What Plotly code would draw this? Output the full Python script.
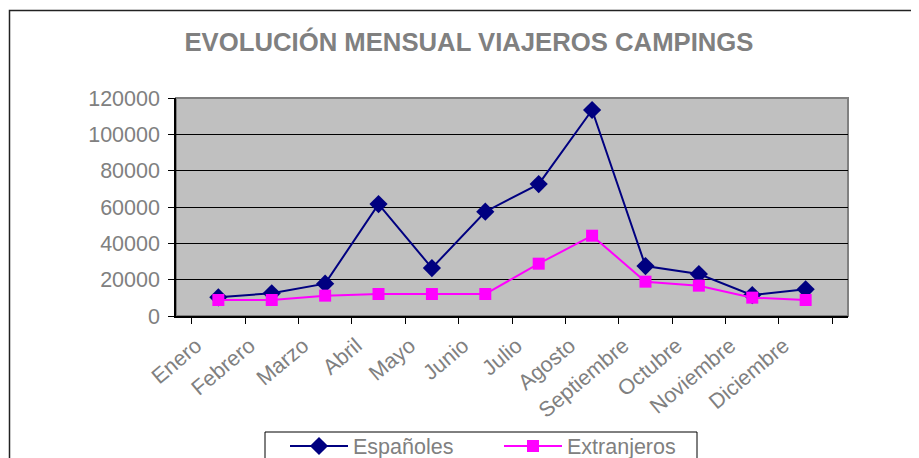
import plotly.graph_objects as go

meses = ["Enero", "Febrero", "Marzo", "Abril", "Mayo", "Junio", "Julio",
         "Agosto", "Septiembre", "Octubre", "Noviembre", "Diciembre"]
espanoles = [10300, 12500, 17800, 61600, 26400, 57400, 72600, 113400, 27500, 23100, 11500, 14700]
extranjeros = [8800, 8800, 11200, 12100, 12100, 12100, 28800, 44200, 18900, 16700, 10100, 8800]
y_ticks = [0, 20000, 40000, 60000, 80000, 100000, 120000]

W, H = 919, 458
OFF = 8  # page body margin offset
L, R, T, B = 176 - OFF, 71 + OFF, 98 - OFF, 142 + OFF
pw, ph = W - L - R, H - T - B

def px_x(x):
    return (x - OFF - L) / pw

def px_y(y):
    return (H - B - (y - OFF)) / ph

def cx(x):
    return (x - OFF) / W

def cy(y):
    return 1 - (y - OFF) / H

gray = "#808080"
fs = 21.5

fig = go.Figure()
fig.add_trace(go.Scatter(
    x=meses, y=espanoles, name="Españoles", mode="lines+markers",
    line=dict(color="#000080", width=2),
    marker=dict(symbol="diamond", size=14, color="#000080"),
))
fig.add_trace(go.Scatter(
    x=meses, y=extranjeros, name="Extranjeros", mode="lines+markers",
    line=dict(color="#FF00FF", width=2),
    marker=dict(symbol="square", size=12, color="#FF00FF"),
))

fig.update_layout(
    width=W, height=H,
    margin=dict(l=L, r=R, t=T, b=B, pad=0, autoexpand=False),
    paper_bgcolor="white",
    plot_bgcolor="#C0C0C0",
    font=dict(family="Arial, Liberation Sans, sans-serif", color=gray, size=fs),
    title=dict(text="<b>EVOLUCIÓN MENSUAL VIAJEROS CAMPINGS</b>",
               font=dict(size=25.7, color=gray),
               x=cx(469), xanchor="center", xref="container",
               y=cy(42), yanchor="middle", yref="container"),
    showlegend=True,
    legend=dict(orientation="h", xref="container", yref="container",
                x=cx(285), xanchor="left",
                y=cy(446), yanchor="middle",
                borderwidth=0, bgcolor="rgba(0,0,0,0)",
                font=dict(size=fs, color=gray),
                itemwidth=58,
                entrywidth=141, entrywidthmode="pixels"),
    xaxis=dict(type="category", tickson="boundaries", ticks="outside",
               ticklen=6, tickcolor="black", showline=True, linecolor="black",
               linewidth=1.5, showgrid=False, tickangle=-40, automargin=False,
               ticklabelstandoff=7, ticklabelshift=-22,
               tickfont=dict(size=fs, color=gray)),
    yaxis=dict(range=[0, 120000], tickvals=y_ticks, tickformat="d",
               ticks="outside", automargin=False, ticklabelstandoff=4,
               ticklen=6, tickcolor="black", showline=True, linecolor="black",
               linewidth=1.5, showgrid=True, gridcolor="black", gridwidth=1,
               zeroline=False, tickfont=dict(size=fs, color=gray)),
    shapes=[
        dict(type="rect", xref="paper", yref="paper", x0=0, x1=1, y0=0, y1=1,
             line=dict(color=gray, width=2), layer="below"),
        dict(type="rect", xref="paper", yref="paper",
             x0=px_x(9.5), x1=px_x(940), y0=px_y(10.5), y1=px_y(480),
             line=dict(color="#222222", width=1.5), fillcolor="rgba(0,0,0,0)"),
        dict(type="rect", xref="paper", yref="paper",
             x0=px_x(265), x1=px_x(697), y0=px_y(432), y1=px_y(480),
             line=dict(color="black", width=1), fillcolor="white"),
    ],
)

fig.write_html("out.html")
